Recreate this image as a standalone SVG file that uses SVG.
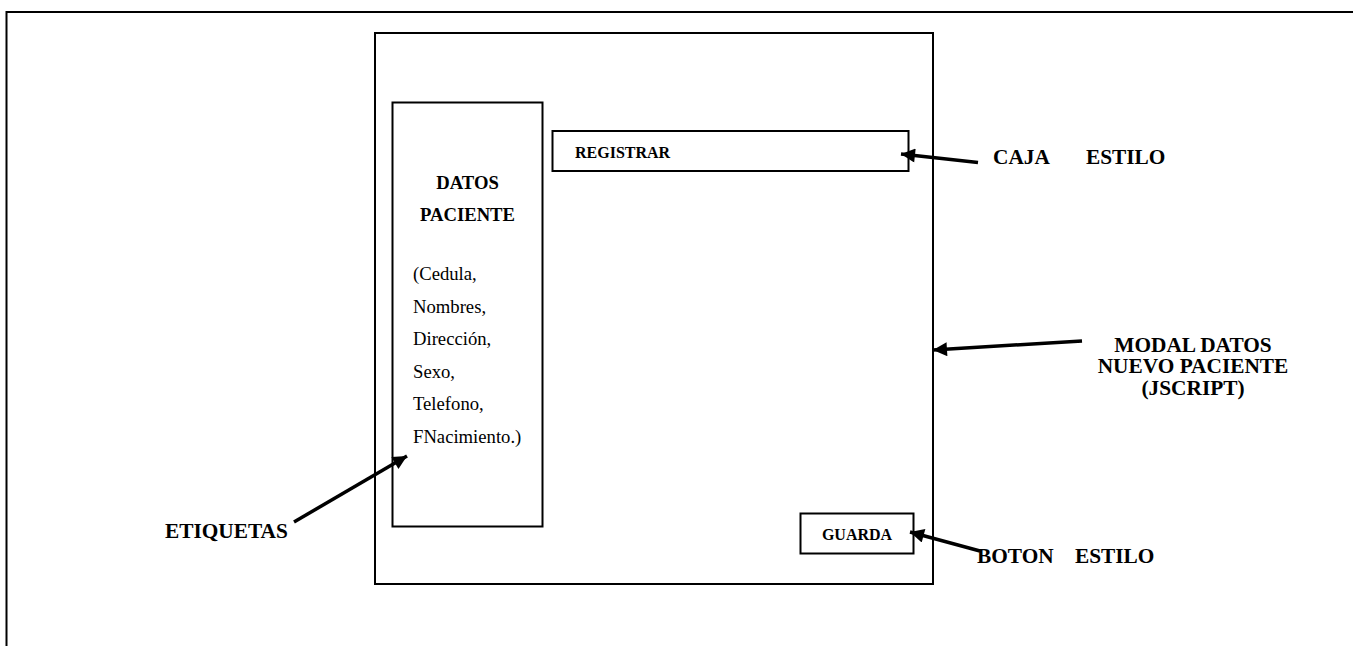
<svg xmlns="http://www.w3.org/2000/svg" width="1353" height="646" viewBox="0 0 1353 646">
  <style>
    .box { fill: none; stroke: #000; stroke-width: 2; }
    .wire { fill: none; stroke: #000; stroke-width: 3.5; }
    .lbl { font-family: "Liberation Serif", "Times New Roman", serif; font-weight: bold; font-size: 21.33px; fill: #000; }
    .hdr { font-family: "Liberation Serif", "Times New Roman", serif; font-weight: bold; font-size: 18.67px; fill: #000; }
    .btn { font-family: "Liberation Serif", "Times New Roman", serif; font-weight: bold; font-size: 16px; fill: #000; }
    .txt { font-family: "Liberation Serif", "Times New Roman", serif; font-size: 18.67px; fill: #000; }
  </style>
  <defs>
    <marker id="head" viewBox="0 0 10 10" refX="10" refY="5" markerWidth="4.6" markerHeight="4" orient="auto" markerUnits="strokeWidth">
      <path d="M0,0 L10,5 L0,10 Z" fill="#000"/>
    </marker>
  </defs>
  <rect width="1353" height="646" fill="#fff"/>

  <!-- page frame -->
  <g id="frame">
    <path class="box" d="M1353,12 H6.5 V646"/>
  </g>

  <!-- modal window -->
  <g id="modal">
    <rect class="box" x="375" y="33" width="558" height="551"/>
  </g>

  <!-- patient data labels panel -->
  <g id="datos-paciente">
    <rect class="box" x="392.5" y="102.5" width="150" height="424"/>
    <text class="hdr" x="467.5" y="189" text-anchor="middle">DATOS</text>
    <text class="hdr" x="467.5" y="221" text-anchor="middle">PACIENTE</text>
    <text class="txt" x="413" y="280">(Cedula,</text>
    <text class="txt" x="413" y="313">Nombres,</text>
    <text class="txt" x="413" y="345">Dirección,</text>
    <text class="txt" x="413" y="378">Sexo,</text>
    <text class="txt" x="413" y="410">Telefono,</text>
    <text class="txt" x="413" y="443">FNacimiento.)</text>
  </g>

  <!-- title bar -->
  <g id="registrar">
    <rect class="box" x="552.5" y="131" width="356" height="40"/>
    <text class="btn" x="575" y="157.5">REGISTRAR</text>
  </g>

  <!-- save button -->
  <g id="guarda">
    <rect class="box" x="800.5" y="513.5" width="113" height="40"/>
    <text class="btn" x="857" y="540" text-anchor="middle">GUARDA</text>
  </g>

  <!-- callout labels -->
  <g id="caja-estilo">
    <text class="lbl" x="993" y="163.5">CAJA</text>
    <text class="lbl" x="1086" y="163.5">ESTILO</text>
  </g>
  <g id="modal-datos">
    <text class="lbl" x="1193" y="351.5" text-anchor="middle">MODAL DATOS</text>
    <text class="lbl" x="1193" y="373" text-anchor="middle">NUEVO PACIENTE</text>
    <text class="lbl" x="1193" y="394.5" text-anchor="middle">(JSCRIPT)</text>
  </g>
  <g id="boton-estilo">
    <text class="lbl" x="977" y="563">BOTON</text>
    <text class="lbl" x="1075" y="563">ESTILO</text>
  </g>
  <g id="etiquetas">
    <text class="lbl" x="165" y="537.5">ETIQUETAS</text>
  </g>

  <!-- connectors -->
  <g id="connectors">
    <line class="wire" x1="978" y1="162.5" x2="901" y2="154" marker-end="url(#head)"/>
    <line class="wire" x1="1082" y1="341" x2="933" y2="350" marker-end="url(#head)"/>
    <line class="wire" x1="980" y1="551" x2="910" y2="532" marker-end="url(#head)"/>
    <line class="wire" x1="294" y1="522" x2="407" y2="456" marker-end="url(#head)"/>
  </g>
</svg>
